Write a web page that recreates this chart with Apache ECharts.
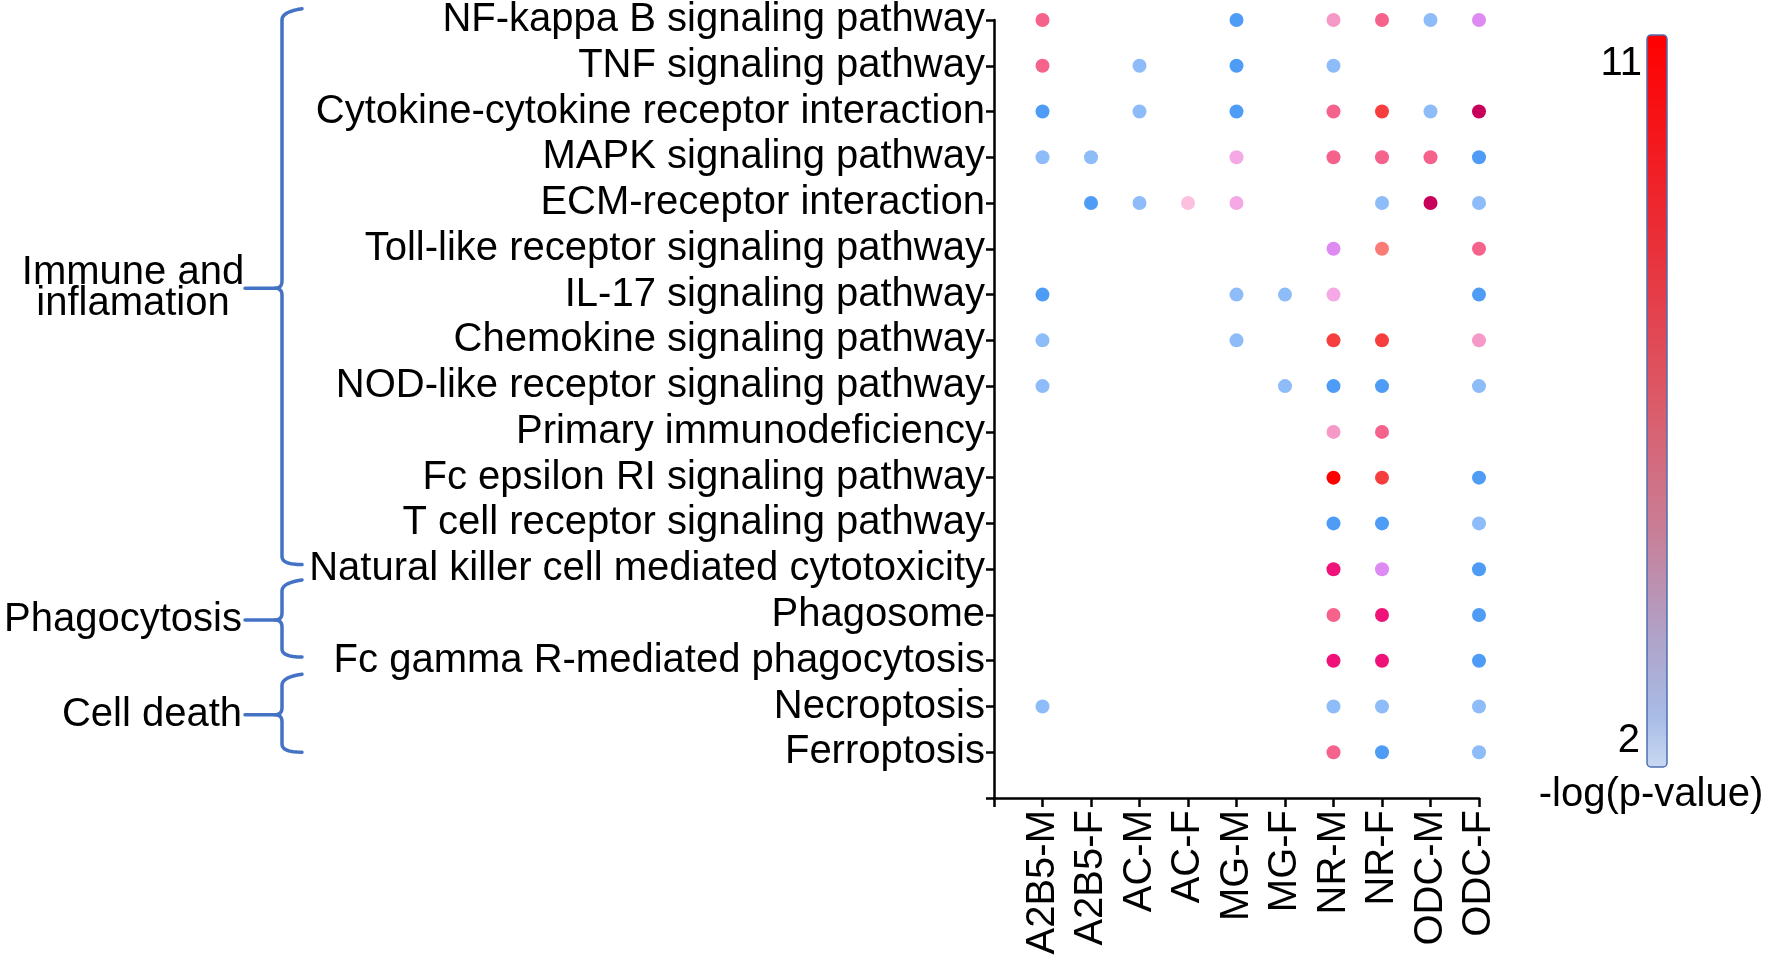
<!DOCTYPE html>
<html>
<head>
<meta charset="utf-8">
<script src="https://cdn.jsdelivr.net/npm/echarts@6/dist/echarts.min.js"></script>
<style>
  html, body { margin: 0; padding: 0; background: #fff; }
  #main { width: 1770px; height: 961px; }
</style>
</head>
<body>
<div id="main"></div>
<script>
const FONT = "'Liberation Sans', Arial, sans-serif";

// cell types on the x axis
const columns = ["A2B5-M", "A2B5-F", "AC-M", "AC-F", "MG-M", "MG-F", "NR-M", "NR-F", "ODC-M", "ODC-F"];

// KEGG pathways, top to bottom
const pathways = [
  "NF-kappa B signaling pathway",
  "TNF signaling pathway",
  "Cytokine-cytokine receptor interaction",
  "MAPK signaling pathway",
  "ECM-receptor interaction",
  "Toll-like receptor signaling pathway",
  "IL-17 signaling pathway",
  "Chemokine signaling pathway",
  "NOD-like receptor signaling pathway",
  "Primary immunodeficiency",
  "Fc epsilon RI signaling pathway",
  "T cell receptor signaling pathway",
  "Natural killer cell mediated cytotoxicity",
  "Phagosome",
  "Fc gamma R-mediated phagocytosis",
  "Necroptosis",
  "Ferroptosis"
];

// -log(p-value) per pathway (rows) and cell type (columns); null = not enriched
const pvalues = [
  [7.5, null, null, null, 3.5, null, 6.5, 7.5, 2.5, 5.5],
  [7.5, null, 2.5, null, 3.5, null, 2.5, null, null, null],
  [3.5, null, 2.5, null, 3.5, null, 7.5, 9.5, 2.5, 10.5],
  [2.5, 2.5, null, null, 5, null, 7.5, 7.5, 7.5, 3.5],
  [null, 3.5, 2.5, 4.5, 5, null, null, 2.5, 10.5, 2.5],
  [null, null, null, null, null, null, 5.5, 8, null, 7.5],
  [3.5, null, null, null, 2.5, 2.5, 5, null, null, 3.5],
  [2.5, null, null, null, 2.5, null, 9.5, 9.5, null, 6.5],
  [2.5, null, null, null, null, 2.5, 3.5, 3.5, null, 2.5],
  [null, null, null, null, null, null, 6.5, 7.5, null, null],
  [null, null, null, null, null, null, 11, 9.5, null, 3.5],
  [null, null, null, null, null, null, 3.5, 3.5, null, 2.5],
  [null, null, null, null, null, null, 10, 5.5, null, 3.5],
  [null, null, null, null, null, null, 7.5, 10, null, 3.5],
  [null, null, null, null, null, null, 10, 10, null, 3.5],
  [2.5, null, null, null, null, null, 2.5, 2.5, null, 2.5],
  [null, null, null, null, null, null, 7.5, 3.5, null, 2.5]
];

// colour levels used for the dots
const levels = [2.5, 3.5, 4.5, 5, 5.5, 6.5, 7.5, 8, 9.5, 10, 10.5, 11];
const levelColors = ["#8ebcf8", "#4f9cf7", "#fcc0de", "#f4a9e6", "#dd8af2", "#f799c7",
                     "#f5628c", "#fb7c77", "#f73e3e", "#ef1278", "#c9005b", "#ff0000"];

// pathway groups (first/last row)
const groups = [
  { name: "Immune and\ninflamation", first: 0, last: 12 },
  { name: "Phagocytosis", first: 13, last: 14 },
  { name: "Cell death", first: 15, last: 16 }
];

const scaleRange = [2, 11];
const scaleTitle = "-log(p-value)";

const points = [];
pvalues.forEach((row, i) => {
  row.forEach((v, j) => {
    if (v != null) points.push([columns[j], pathways[i], v]);
  });
});

const chart = echarts.init(document.getElementById("main"), null, { renderer: "canvas" });

const axisStyle = { lineStyle: { color: "#000", width: 2.5 } };

chart.setOption({
  animation: false,
  backgroundColor: "#fff",
  textStyle: { fontFamily: FONT },
  grid: { left: 994, right: 291, top: 20, bottom: 163 },
  xAxis: {
    type: "category",
    data: [""].concat(columns),
    boundaryGap: false,
    axisLine: axisStyle,
    axisTick: { show: true, length: 9, lineStyle: { color: "#000", width: 2.5 } },
    axisLabel: { rotate: 90, margin: 12, fontSize: 40, color: "#000", fontFamily: FONT, interval: 0 },
    splitLine: { show: false }
  },
  yAxis: {
    type: "category",
    data: pathways.concat([""]),
    inverse: true,
    boundaryGap: false,
    axisLine: axisStyle,
    axisTick: { show: true, length: 8, lineStyle: { color: "#000", width: 2.5 } },
    axisLabel: { margin: 9, fontSize: 40, color: "#000", fontFamily: FONT, interval: 0 },
    splitLine: { show: false }
  },
  visualMap: {
    type: "piecewise",
    show: false,
    dimension: 2,
    seriesIndex: 0,
    pieces: levels.map((v, i) => ({ value: v, color: levelColors[i] }))
  },
  series: [{
    type: "scatter",
    data: points,
    symbolSize: 14,
    itemStyle: { opacity: 1 },
    emphasis: { disabled: true },
    z: 5
  }]
});

// annotations: group brackets and colour scale
const y0 = chart.convertToPixel({ yAxisIndex: 0 }, pathways[0]);
const step = chart.convertToPixel({ yAxisIndex: 0 }, pathways[1]) - y0;
const rowY = f => y0 + f * step;

const bracketPad = [[-0.18, -0.1], [-0.7, -0.08], [-0.64, 0]];
const bx = 282, armEnd = 302, stemStart = 245;
const blue = "#4472c4";

// sample a quadratic curve into points
function quad(p0, c, p1, n) {
  const pts = [];
  for (let i = 1; i <= n; i++) {
    const t = i / n, u = 1 - t;
    pts.push([u * u * p0[0] + 2 * u * t * c[0] + t * t * p1[0],
              u * u * p0[1] + 2 * u * t * c[1] + t * t * p1[1]]);
  }
  return pts;
}

const graphics = [];
groups.forEach((g, k) => {
  const top = rowY(g.first + bracketPad[k][0]);
  const bot = rowY(g.last + bracketPad[k][1]);
  const mid = (top + bot) / 2;
  let upper = [[armEnd, top - 3]];
  upper = upper.concat(quad([armEnd, top - 3], [bx, top], [bx, top + 8], 8));
  upper.push([bx, mid - 7]);
  upper = upper.concat(quad([bx, mid - 7], [bx, mid], [bx - 7, mid], 6));
  upper.push([stemStart, mid]);
  let lower = [[bx - 7, mid]];
  lower = lower.concat(quad([bx - 7, mid], [bx, mid], [bx, mid + 7], 6));
  lower.push([bx, bot - 8]);
  lower = lower.concat(quad([bx, bot - 8], [bx, bot], [armEnd, bot], 8));
  [upper, lower].forEach(pts => {
    graphics.push({
      type: "polyline",
      shape: { points: pts },
      style: { fill: null, stroke: blue, lineWidth: 3.5, lineJoin: "round", lineCap: "round" }
    });
  });
  const multi = g.name.indexOf("\n") >= 0;
  graphics.push({
    type: "text",
    x: multi ? 133 : 242,
    y: mid,
    style: {
      text: g.name,
      font: `40px ${FONT}`,
      fill: "#000",
      align: multi ? "center" : "right",
      verticalAlign: "middle",
      lineHeight: 31
    }
  });
});

// colour bar
const barX = 1647, barTop = 35, barH = 732, barW = 20;
graphics.push({
  type: "rect",
  shape: { x: barX, y: barTop, width: barW, height: barH, r: 4 },
  style: {
    fill: new echarts.graphic.LinearGradient(0, 0, 0, 1, [
      { offset: 0, color: "#ff0000" },
      { offset: 0.3, color: "#e8323c" },
      { offset: 0.5, color: "#dc5a68" },
      { offset: 0.68, color: "#c87f98" },
      { offset: 0.82, color: "#b0a2c8" },
      { offset: 0.93, color: "#a8bce6" },
      { offset: 1, color: "#c9d9f2" }
    ]),
    stroke: "#4b6fb0",
    lineWidth: 1.5
  }
});
graphics.push({
  type: "text", x: barX - 5, y: barTop + 29,
  style: { text: String(scaleRange[1]), font: `40px ${FONT}`, fill: "#000", align: "right", verticalAlign: "middle" }
});
graphics.push({
  type: "text", x: barX - 7, y: barTop + barH - 26,
  style: { text: String(scaleRange[0]), font: `40px ${FONT}`, fill: "#000", align: "right", verticalAlign: "middle" }
});
graphics.push({
  type: "text", x: 1651, y: 795,
  style: { text: scaleTitle, font: `40px ${FONT}`, fill: "#000", align: "center", verticalAlign: "middle" }
});

chart.setOption({ graphic: graphics });
</script>
</body>
</html>
